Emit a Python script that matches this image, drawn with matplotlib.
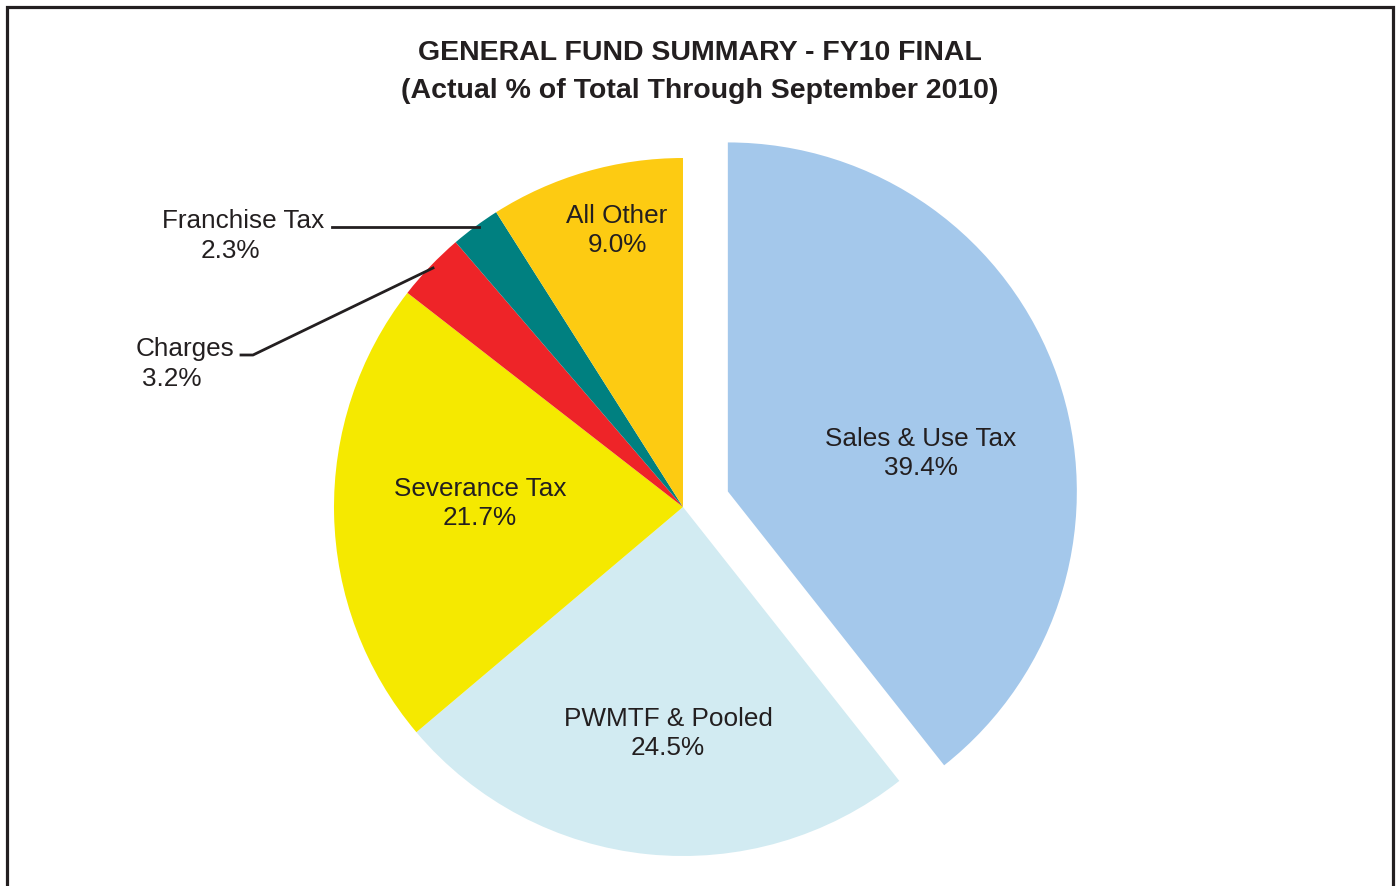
import matplotlib
matplotlib.use("Agg")
import matplotlib.pyplot as plt
from matplotlib.patches import Rectangle

# data
categories = ["Sales & Use Tax", "PWMTF & Pooled", "Severance Tax", "Charges", "Franchise Tax", "All Other"]
shares = [39.4, 24.5, 21.7, 3.2, 2.3, 9.0]
colors = ["#A4C8EB", "#D2EBF2", "#F5E900", "#EE2428", "#008080", "#FDCB12"]
explode = [0.136, 0, 0, 0, 0, 0]

plt.rcParams['font.family'] = ['Liberation Sans', 'DejaVu Sans']
txt = "#231F20"

W, H = 1400, 886
R = 349.0
CX, CY = 683, 507

def px(x, y):
    # pixel position -> data coords (pie radius 1 = R px)
    return (x - CX) / R, (CY - y) / R

fig = plt.figure(figsize=(14, 8.86), dpi=100)
ax = fig.add_axes([0, 0, 1, 1])

ax.pie(shares, colors=colors, explode=explode, startangle=90, counterclock=False,
       radius=1, center=(0, 0), frame=True,
       wedgeprops=dict(linewidth=0))
ax.set_xlim(-CX / R, (W - CX) / R)
ax.set_ylim((CY - H) / R, CY / R)
ax.set_aspect('auto')
ax.axis('off')

# label positions (pixel centres of the two text lines)
label_pos = {
    "Sales & Use Tax": (921, 439, 921, 468),
    "PWMTF & Pooled": (668, 719, 668, 748),
    "Severance Tax": (480, 489, 480, 518),
    "All Other": (617, 216, 617, 245),
    "Franchise Tax": (243, 221, 230, 251),
    "Charges": (185, 349, 172, 379),
}
for name, val in zip(categories, shares):
    x1, y1, x2, y2 = label_pos[name]
    ax.text(*px(x1, y1), name, ha='center', va='center', fontsize=18.8, color=txt)
    ax.text(*px(x2, y2), f"{val:.1f}%", ha='center', va='center', fontsize=18.8, color=txt)

# leader lines
fx, fy = zip(px(332, 227), px(479, 227))
ax.plot(fx, fy, color=txt, lw=2)
cx_, cy_ = zip(px(241, 355), px(253, 355), px(433, 268))
ax.plot(cx_, cy_, color=txt, lw=2)

fig.text(0.5, 1 - 53 / H, "GENERAL FUND SUMMARY - FY10 FINAL", ha='center', va='center',
         fontsize=20.5, fontweight='bold', color=txt)
fig.text(0.5, 1 - 91 / H, "(Actual % of Total Through September 2010)", ha='center', va='center',
         fontsize=20.5, fontweight='bold', color=txt)

# outer frame (bottom edge cut off)
fig.add_artist(Rectangle((7 / W, -0.05), (1393 - 7) / W, 1.05 - 7 / H,
                         transform=fig.transFigure, fill=False, edgecolor="#231F20", lw=2.3))

fig.savefig("out.png", dpi=100, facecolor='white')
